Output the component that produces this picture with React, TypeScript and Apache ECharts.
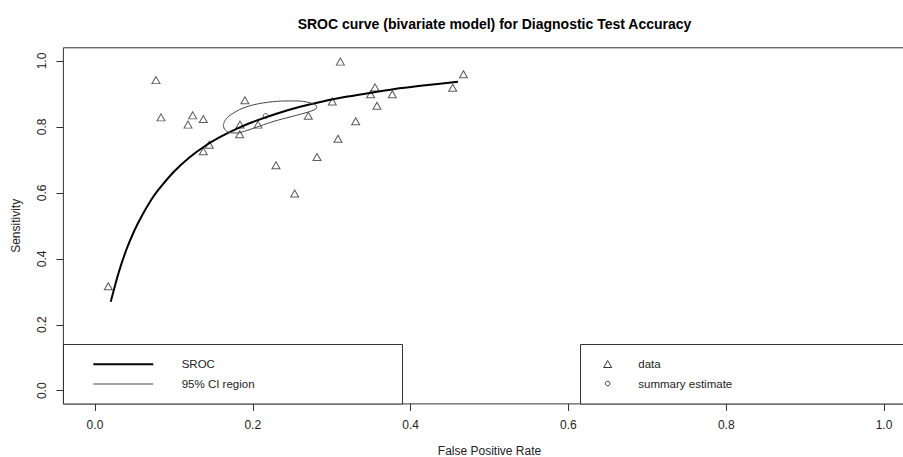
import React, { useEffect, useRef } from "react";
import * as echarts from "echarts";

// Observed studies (false positive rate, sensitivity)
const dataFPR = [0.0169, 0.0773, 0.0837, 0.1179, 0.1238, 0.1373, 0.1373, 0.1449, 0.1838, 0.1834, 0.19, 0.2066, 0.2294, 0.2531, 0.2704, 0.2814, 0.3008, 0.308, 0.311, 0.3304, 0.3494, 0.3549, 0.3574, 0.3768, 0.4534, 0.467];
const dataSens = [0.317, 0.942, 0.829, 0.807, 0.835, 0.824, 0.726, 0.746, 0.807, 0.778, 0.881, 0.807, 0.684, 0.598, 0.834, 0.709, 0.877, 0.764, 0.998, 0.817, 0.899, 0.92, 0.864, 0.899, 0.919, 0.96];

// Summary estimate
const summaryFPR = [0.2163];
const summarySens = [0.833];

// SROC curve
const srocFPR = [0.02, 0.03, 0.04, 0.05, 0.06, 0.07, 0.08, 0.1, 0.12, 0.14, 0.16, 0.18, 0.2, 0.23, 0.26, 0.29, 0.32, 0.35, 0.38, 0.41, 0.44, 0.46];
const srocSens = [0.27, 0.358, 0.429, 0.486, 0.533, 0.574, 0.608, 0.664, 0.708, 0.743, 0.771, 0.795, 0.815, 0.84, 0.861, 0.878, 0.892, 0.904, 0.915, 0.924, 0.932, 0.937];

// 95% confidence region outline
const ciFPR = [0.1626, 0.166, 0.1736, 0.1863, 0.2028, 0.2218, 0.2408, 0.2573, 0.2712, 0.2795, 0.281, 0.2776, 0.2662, 0.2471, 0.2281, 0.2091, 0.1926, 0.18, 0.1698, 0.1641, 0.1626];
const ciSens = [0.8059, 0.8241, 0.8392, 0.8559, 0.8681, 0.8756, 0.8787, 0.8787, 0.8741, 0.8665, 0.859, 0.8514, 0.8423, 0.8302, 0.818, 0.8029, 0.7892, 0.7816, 0.7831, 0.7937, 0.8059];

const tickValues = [0, 0.2, 0.4, 0.6, 0.8, 1.0];

const FONT = "'Liberation Sans', Arial, Helvetica, sans-serif";

export default function App() {
  const ref = useRef<HTMLDivElement>(null);

  useEffect(() => {
    if (!ref.current) return;
    const chart = echarts.init(ref.current, undefined, { renderer: "svg" });

    const zip = (a: number[], b: number[]) => a.map((v, i) => [v, b[i]]);

    const axisCommon = {
      type: "value",
      min: -0.04,
      max: 1.04,
      splitLine: { show: false },
      axisLine: { show: false, onZero: false },
      axisTick: {
        show: true,
        length: 7,
        customValues: tickValues,
        lineStyle: { color: "#333", width: 1 },
      },
      axisLabel: {
        customValues: tickValues,
        formatter: (v: number) => v.toFixed(1),
        color: "#222",
        fontSize: 12,
        fontFamily: FONT,
      },
      nameLocation: "middle",
      nameTextStyle: { color: "#222", fontSize: 12, fontFamily: FONT },
    };

    const option: any = {
      animation: false,
      backgroundColor: "#fff",
      title: {
        text: "SROC curve (bivariate model) for Diagnostic Test Accuracy",
        left: 489.5,
        top: 12,
        textAlign: "center",
        textStyle: { fontSize: 14, fontWeight: "bold", color: "#000", fontFamily: FONT },
      },
      grid: {
        left: 63.4,
        top: 47.8,
        right: -12.6,
        bottom: 53.1,
        containLabel: false,
        outerBoundsMode: "none",
        show: true,
        borderColor: "#333",
        borderWidth: 1,
        backgroundColor: "transparent",
      },
      xAxis: {
        ...axisCommon,
        name: "False Positive Rate",
        nameGap: 41,
        axisLabel: { ...axisCommon.axisLabel, margin: 15 },
      },
      yAxis: {
        ...axisCommon,
        name: "Sensitivity",
        nameGap: 41,
        nameRotate: 90,
        axisLabel: { ...axisCommon.axisLabel, margin: 15, rotate: 90 },
      },
      series: [
        {
          type: "scatter",
          name: "data",
          data: zip(dataFPR, dataSens),
          symbol: "triangle",
          symbolSize: [8, 7],
          itemStyle: { color: "rgba(255,255,255,0)", borderColor: "#333", borderWidth: 1 },
          z: 2,
        },
        {
          type: "line",
          name: "SROC",
          data: zip(srocFPR, srocSens),
          smooth: 0.3,
          showSymbol: false,
          symbol: "none",
          lineStyle: { color: "#000", width: 2 },
          z: 3,
        },
        {
          type: "line",
          name: "95% CI region",
          data: zip(ciFPR, ciSens),
          smooth: 0.3,
          showSymbol: false,
          symbol: "none",
          lineStyle: { color: "#444", width: 1 },
          z: 3,
        },
        {
          type: "scatter",
          name: "summary estimate",
          data: zip(summaryFPR, summarySens),
          symbol: "circle",
          symbolSize: 5,
          itemStyle: { color: "rgba(255,255,255,0)", borderColor: "#333", borderWidth: 1 },
          z: 4,
        },
      ],
      graphic: [
        {
          type: "group",
          z: 100,
          children: [
            {
              type: "rect",
              shape: { x: 63.5, y: 344.5, width: 339, height: 59.5 },
              style: { fill: "#fff", stroke: "#333", lineWidth: 1 },
            },
            {
              type: "line",
              shape: { x1: 93.3, y1: 364.3, x2: 153.3, y2: 364.3 },
              style: { stroke: "#000", lineWidth: 2 },
            },
            {
              type: "line",
              shape: { x1: 93.3, y1: 384, x2: 153.3, y2: 384 },
              style: { stroke: "#444", lineWidth: 1 },
            },
            {
              type: "text",
              x: 181.7,
              y: 364.3,
              style: { text: "SROC", fill: "#222", fontSize: 11.5, fontFamily: FONT, verticalAlign: "middle", align: "left" },
            },
            {
              type: "text",
              x: 181.7,
              y: 384,
              style: { text: "95% CI region", fill: "#222", fontSize: 11.5, fontFamily: FONT, verticalAlign: "middle", align: "left" },
            },
            {
              type: "rect",
              shape: { x: 580.5, y: 344.5, width: 340, height: 59.5 },
              style: { fill: "#fff", stroke: "#333", lineWidth: 1 },
            },
            {
              type: "polygon",
              shape: { points: [[603.7, 367.5], [611.7, 367.5], [607.7, 360.5]] },
              style: { fill: "none", stroke: "#333", lineWidth: 1 },
            },
            {
              type: "circle",
              shape: { cx: 607.7, cy: 383.5, r: 2.3 },
              style: { fill: "none", stroke: "#333", lineWidth: 1 },
            },
            {
              type: "text",
              x: 638.3,
              y: 364.3,
              style: { text: "data", fill: "#222", fontSize: 11.5, fontFamily: FONT, verticalAlign: "middle", align: "left" },
            },
            {
              type: "text",
              x: 638.3,
              y: 384,
              style: { text: "summary estimate", fill: "#222", fontSize: 11.5, fontFamily: FONT, verticalAlign: "middle", align: "left" },
            },
          ],
        },
      ],
    };

    chart.setOption(option);
    return () => chart.dispose();
  }, []);

  return (
    <div
      ref={ref}
      style={{ position: "fixed", left: 0, top: 0, width: 903, height: 457, background: "#fff" }}
    />
  );
}
